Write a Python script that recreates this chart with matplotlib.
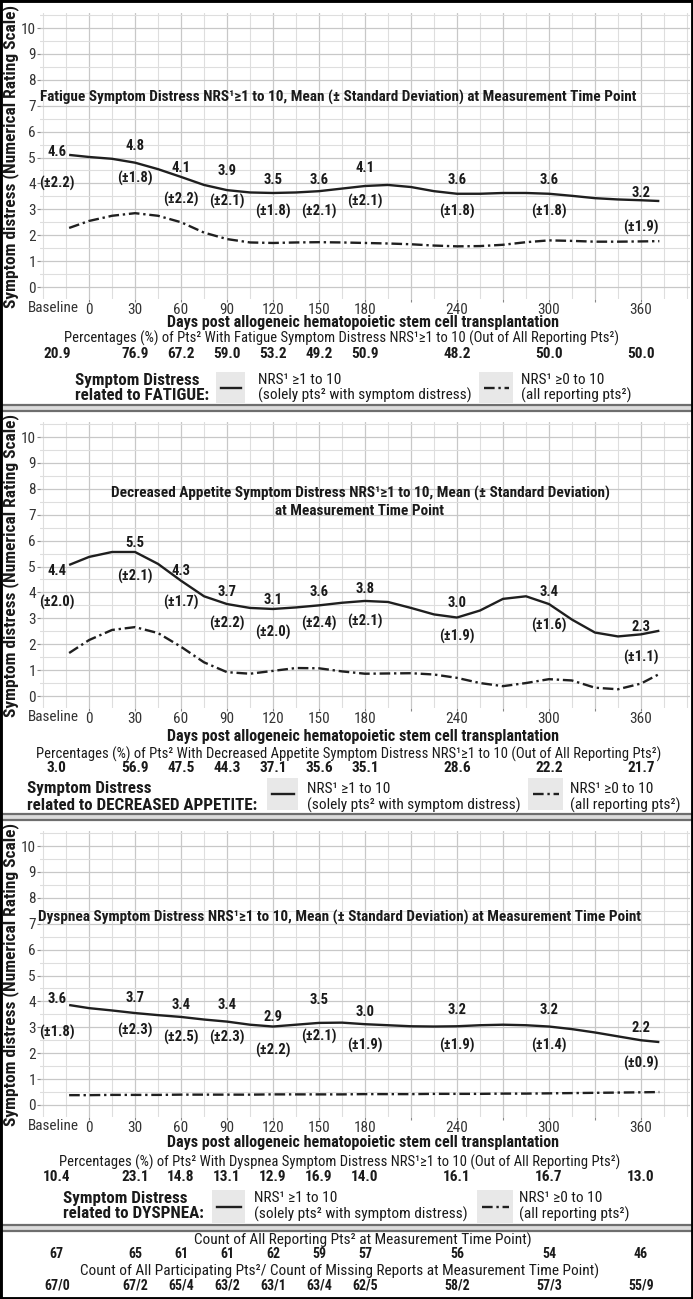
import matplotlib
matplotlib.use("Agg")
import matplotlib.pyplot as plt
from matplotlib import font_manager as fm
from matplotlib.lines import Line2D
from matplotlib.patches import Rectangle
from matplotlib.ticker import MultipleLocator

# pick a narrow sans that has real regular and bold faces (no variable fonts)
def has_faces(name):
    ws = {f.weight for f in fm.fontManager.ttflist
          if f.name == name and "[" not in f.fname and f.style == "normal"}
    ws = {w if isinstance(w, int) else 400 for w in ws}
    return any(w >= 700 for w in ws) and any(w <= 400 for w in ws)


narrow = next((n for n in ["Roboto Condensed", "PT Sans Narrow", "Barlow Semi Condensed",
                           "Asap Condensed"] if has_faces(n)), "Liberation Sans")
plt.rcParams["font.family"] = [narrow, "Liberation Sans", "DejaVu Sans"]

W, H = 693, 1299

# measurement time points (baseline column sits left of day 0)
time_labels = ["Baseline", "30", "60", "90", "120", "150", "180", "240", "300", "360"]
time_days = [-21, 30, 60, 90, 120, 150, 180, 240, 300, 360]

curve_days = [-13, 0, 15, 30, 45, 60, 75, 90, 105, 120, 135, 150, 165, 180,
              195, 210, 225, 240, 255, 270, 285, 300, 315, 330, 345, 360, 372]

fatigue_mean = [4.6, 4.8, 4.1, 3.9, 3.5, 3.6, 4.1, 3.6, 3.6, 3.2]
fatigue_sd = [2.2, 1.8, 2.2, 2.1, 1.8, 2.1, 2.1, 1.8, 1.8, 1.9]
fatigue_pct = [20.9, 76.9, 67.2, 59.0, 53.2, 49.2, 50.9, 48.2, 50.0, 50.0]
fatigue_curve_pos = [5.1, 5.02, 4.95, 4.8, 4.55, 4.25, 3.94, 3.74, 3.65, 3.63, 3.65, 3.7, 3.8, 3.9,
                     3.94, 3.86, 3.7, 3.6, 3.6, 3.63, 3.63, 3.6, 3.52, 3.43, 3.38, 3.35, 3.32]
fatigue_curve_all = [2.28, 2.55, 2.75, 2.85, 2.75, 2.5, 2.1, 1.85, 1.72, 1.7, 1.72, 1.73, 1.72, 1.7,
                     1.68, 1.65, 1.6, 1.57, 1.58, 1.63, 1.73, 1.8, 1.78, 1.75, 1.75, 1.76, 1.77]

appetite_mean = [4.4, 5.5, 4.3, 3.7, 3.1, 3.6, 3.8, 3.0, 3.4, 2.3]
appetite_sd = [2.0, 2.1, 1.7, 2.2, 2.0, 2.4, 2.1, 1.9, 1.6, 1.1]
appetite_pct = [3.0, 56.9, 47.5, 44.3, 37.1, 35.6, 35.1, 28.6, 22.2, 21.7]
appetite_curve_pos = [5.06, 5.37, 5.56, 5.56, 5.1, 4.45, 3.85, 3.55, 3.4, 3.36, 3.42, 3.5, 3.6, 3.67,
                      3.63, 3.4, 3.15, 3.03, 3.3, 3.75, 3.85, 3.55, 2.95, 2.45, 2.3, 2.38, 2.52]
appetite_curve_all = [1.66, 2.16, 2.55, 2.66, 2.43, 1.9, 1.3, 0.92, 0.86, 0.97, 1.08, 1.07, 0.95, 0.86,
                      0.87, 0.88, 0.83, 0.7, 0.5, 0.38, 0.5, 0.65, 0.6, 0.32, 0.26, 0.48, 0.85]

dyspnea_mean = [3.6, 3.7, 3.4, 3.4, 2.9, 3.5, 3.0, 3.2, 3.2, 2.2]
dyspnea_sd = [1.8, 2.3, 2.5, 2.3, 2.2, 2.1, 1.9, 1.9, 1.4, 0.9]
dyspnea_pct = [10.4, 23.1, 14.8, 13.1, 12.9, 16.9, 14.0, 16.1, 16.7, 13.0]
dyspnea_curve_pos = [3.86, 3.74, 3.65, 3.55, 3.47, 3.4, 3.3, 3.22, 3.1, 3.03, 3.1, 3.17, 3.18, 3.12,
                     3.08, 3.04, 3.03, 3.04, 3.08, 3.1, 3.08, 3.03, 2.93, 2.8, 2.65, 2.5, 2.43]
dyspnea_curve_all = [0.38, 0.38, 0.39, 0.39, 0.39, 0.4, 0.4, 0.4, 0.4, 0.41, 0.41, 0.41, 0.41, 0.42,
                     0.42, 0.42, 0.43, 0.43, 0.43, 0.44, 0.44, 0.45, 0.46, 0.47, 0.48, 0.49, 0.5]

count_reporting = [67, 65, 61, 61, 62, 59, 57, 56, 54, 46]
count_participating = [67, 67, 65, 63, 63, 63, 62, 58, 57, 55]
count_missing = [0, 2, 4, 2, 1, 4, 5, 2, 3, 9]

# where the mean / sd annotations sit (layout, in y-axis units)
fatigue_lab_y = [5.2, 5.44, 4.6, 4.48, 4.13, 4.13, 4.6, 4.13, 4.13, 3.63]
fatigue_sd_y = [3.98, 4.2, 3.36, 3.32, 2.9, 2.9, 3.32, 2.9, 2.9, 2.28]
appetite_lab_y = [4.83, 5.9, 4.83, 4.0, 3.7, 4.0, 4.13, 3.6, 4.0, 2.66]
appetite_sd_y = [3.6, 4.63, 3.6, 2.8, 2.47, 2.8, 2.86, 2.28, 2.74, 1.47]
dyspnea_lab_y = [4.1, 4.13, 3.86, 3.86, 3.4, 4.05, 3.6, 3.67, 3.67, 2.97]
dyspnea_sd_y = [2.8, 2.86, 2.6, 2.6, 2.12, 2.63, 2.31, 2.31, 2.31, 1.62]

fig = plt.figure(figsize=(W / 100, H / 100), dpi=100)
fig.patch.set_facecolor("white")


def fx(px):
    return px / W


def fy(py):
    return 1 - py / H


def ftext(x, y, s, **kw):
    kw.setdefault("va", "center")
    return fig.text(fx(x), fy(y), s, **kw)


def fit(t, target):
    r = fig.canvas.get_renderer()
    bb = t.get_window_extent(r)
    size = bb.height if t.get_rotation() == 90 else bb.width
    t.set_fontsize(t.get_fontsize() * target / size)
    return t.get_fontsize()


def fit_once(key, t, target):
    # fit the first panel's text, reuse that size for the others
    if key in sizes:
        t.set_fontsize(sizes[key])
    else:
        sizes[key] = fit(t, target)


PX_UNIT = 25.9
YMIN, YMAX = -0.47, 10.57
XMIN, XMAX = -32, 392

panels = [
    dict(name="Fatigue", upper="FATIGUE", mean=fatigue_mean, sd=fatigue_sd, pct=fatigue_pct,
         pos=fatigue_curve_pos, all=fatigue_curve_all, y0=287, lab_y=fatigue_lab_y, sd_y=fatigue_sd_y,
         title_y=[97], title_x=40, rows=[308, 323, 338, 354, 380, 395], pct_x=64,
         leg=[75, 216, 245, 258, 479, 513, 521], box=[372, 403]),
    dict(name="Decreased Appetite", upper="DECREASED APPETITE", mean=appetite_mean, sd=appetite_sd,
         pct=appetite_pct, pos=appetite_curve_pos, all=appetite_curve_all, y0=696,
         lab_y=appetite_lab_y, sd_y=appetite_sd_y,
         title_y=[493, 511], title_x=None, rows=[717, 737, 754, 768, 789, 805], pct_x=36,
         leg=[27, 267, 298, 307, 528, 563, 570], box=[778, 810]),
    dict(name="Dyspnea", upper="DYSPNEA", mean=dyspnea_mean, sd=dyspnea_sd, pct=dyspnea_pct,
         pos=dyspnea_curve_pos, all=dyspnea_curve_all, y0=1105, lab_y=dyspnea_lab_y, sd_y=dyspnea_sd_y,
         title_y=[917], title_x=38, rows=[1126, 1143, 1162, 1177, 1198, 1214], pct_x=59,
         leg=[63, 212, 245, 254, 477, 513, 519], box=[1190, 1223]),
]

dashdot = (0, (4.5, 1.6, 1.0, 1.6))
txt = "#1a1a1a"
sizes = {}

for i, p in enumerate(panels):
    top = p["y0"] - YMAX * PX_UNIT
    bot = p["y0"] - YMIN * PX_UNIT
    ax = fig.add_axes([fx(40), fy(bot), fx(650), (bot - top) / H])
    ax.set_xlim(XMIN, XMAX)
    ax.set_ylim(YMIN, YMAX)
    for s in ax.spines.values():
        s.set_visible(False)
    ax.set_xticks([0, 30, 60, 90, 120, 150, 180, 210, 240, 270, 300, 330, 360])
    ax.set_xticklabels(["0", "30", "60", "90", "120", "150", "180", "", "240", "", "300", "", "360"])
    ax.xaxis.set_minor_locator(MultipleLocator(15))
    ax.set_yticks(range(0, 11))
    ax.yaxis.set_minor_locator(MultipleLocator(0.5))
    ax.tick_params(axis="both", which="major", length=2.5, width=0.8, color="#888888",
                   labelsize=11, labelcolor="#333333", pad=0.5)
    ax.tick_params(axis="both", which="minor", length=0)
    ax.grid(True, which="major", color="#c8c8c8", lw=0.9)
    ax.grid(True, which="minor", color="#dedede", lw=0.8)
    ax.set_axisbelow(True)
    ax.text(-6.5, -(p["rows"][0] - bot) / (bot - top), "Baseline", transform=ax.get_xaxis_transform(),
            ha="right", va="center", fontsize=11, color="#333333")

    ax.plot(curve_days, p["pos"], color="#1f1f1f", lw=1.7, solid_capstyle="butt")
    ax.plot(curve_days, p["all"], color="#1f1f1f", lw=1.7, ls=dashdot)

    for d, m, sd, ly, sy in zip(time_days, p["mean"], p["sd"], p["lab_y"], p["sd_y"]):
        ax.text(d, ly, f"{m:.1f}", ha="center", va="center", fontsize=10.5,
                fontweight="bold", color=txt)
        ax.text(d, sy, f"(\u00b1{sd:.1f})", ha="center", va="center", fontsize=10.5,
                fontweight="bold", color=txt)

    # panel title
    t1 = f"{p['name']} Symptom Distress NRS\u00b9\u22651 to 10, Mean (\u00b1 Standard Deviation)"
    if p["title_x"] is not None:
        tt = ftext(p["title_x"], p["title_y"][0], t1 + " at Measurement Time Point",
                   fontsize=10, fontweight="bold", color=txt, ha="left")
        fit_once("title", tt, 598)
    else:
        ftext(360, p["title_y"][0], t1, fontsize=sizes["title"], fontweight="bold", color=txt, ha="center")
        ftext(360, p["title_y"][1], "at Measurement Time Point", fontsize=sizes["title"],
              fontweight="bold", color=txt, ha="center")

    # y label
    yl = ftext(11, (top + bot) / 2, "Symptom distress (Numerical Rating Scale)", rotation=90,
               ha="center", fontsize=10, fontweight="bold", color=txt)
    fit_once("ylab", yl, 304)

    r = p["rows"]
    xl = ftext(363, r[1], "Days post allogeneic hematopoietic stem cell transplantation",
               ha="center", fontsize=10, fontweight="bold", color=txt)
    fit_once("xlab", xl, 391)

    pt = ftext(p["pct_x"], r[2], f"Percentages (%) of Pts\u00b2 With {p['name']} Symptom Distress "
               f"NRS\u00b9\u22651 to 10 (Out of All Reporting Pts\u00b2)", ha="left", fontsize=9.5, color=txt)
    fit_once("pct", pt, 552)

    for d, v in zip(time_days, p["pct"]):
        xp = 40 + (d - XMIN) / (XMAX - XMIN) * 650
        ftext(xp, r[3], f"{v:.1f}", ha="center", fontsize=11, fontweight="bold", color=txt)

    # legend row
    lg = p["leg"]
    l1 = ftext(lg[0], r[4], "Symptom Distress", ha="left", fontsize=12, fontweight="bold", color=txt)
    fit_once("leghead", l1, 124)
    ftext(lg[0], r[5], f"related to {p['upper']}:", ha="left", fontsize=sizes["leghead"],
          fontweight="bold", color=txt)
    b0, b1 = p["box"]
    for xa, xb, style in [(lg[1], lg[2], "-"), (lg[4], lg[5], dashdot)]:
        fig.patches.append(Rectangle((fx(xa), fy(b1)), fx(xb - xa), (b1 - b0) / H,
                                     transform=fig.transFigure, facecolor="#e8e8e8", edgecolor="none"))
        fig.lines.append(Line2D([fx(xa + 5), fx(xb - 4)], [fy((b0 + b1) / 2)] * 2,
                                transform=fig.transFigure, color="#1f1f1f", lw=1.7, ls=style))
    n1 = ftext(lg[3], r[4], "NRS\u00b9 \u22651 to 10", ha="left", fontsize=11, color=txt)
    l2 = ftext(lg[3], r[5], "(solely pts\u00b2 with symptom distress)", ha="left", fontsize=11, color=txt)
    fit_once("legtxt", l2, 213)
    n1.set_fontsize(sizes["legtxt"])
    ftext(lg[6], r[4], "NRS\u00b9 \u22650 to 10", ha="left", fontsize=sizes["legtxt"], color=txt)
    ftext(lg[6], r[5], "(all reporting pts\u00b2)", ha="left", fontsize=sizes["legtxt"], color=txt)

# separators between panels
for ya, yb in [(404, 412), (813, 821), (1224, 1232)]:
    fig.patches.append(Rectangle((0, fy(yb)), 1, (yb - ya) / H, transform=fig.transFigure,
                                 facecolor="#dcdcdc", edgecolor="none", zorder=5))
    for yy in (ya + 1, yb - 1):
        fig.lines.append(Line2D([0, 1], [fy(yy)] * 2, transform=fig.transFigure,
                                color="#6e6e6e", lw=1.6, zorder=6))

# count table
c1 = ftext(363, 1240, "Count of All Reporting Pts\u00b2 at Measurement Time Point)", ha="center",
           fontsize=9.5, color=txt)
sizes["cnt"] = fit(c1, 338)
ftext(340, 1271, "Count of All Participating Pts\u00b2/ Count of Missing Reports at Measurement Time Point)",
      ha="center", fontsize=sizes["cnt"], color=txt)
for d, a, b, c in zip(time_days, count_reporting, count_participating, count_missing):
    xp = 40 + (d - XMIN) / (XMAX - XMIN) * 650
    ftext(xp, 1254, f"{a}", ha="center", fontsize=10, fontweight="bold", color=txt)
    ftext(xp, 1285, f"{b}/{c}", ha="center", fontsize=10, fontweight="bold", color=txt)

# outer frame
fig.patches.append(Rectangle((0, 0), 1, 1, transform=fig.transFigure, facecolor="none",
                             edgecolor="black", lw=3.5, zorder=10))

fig.savefig("out.png", dpi=100)
